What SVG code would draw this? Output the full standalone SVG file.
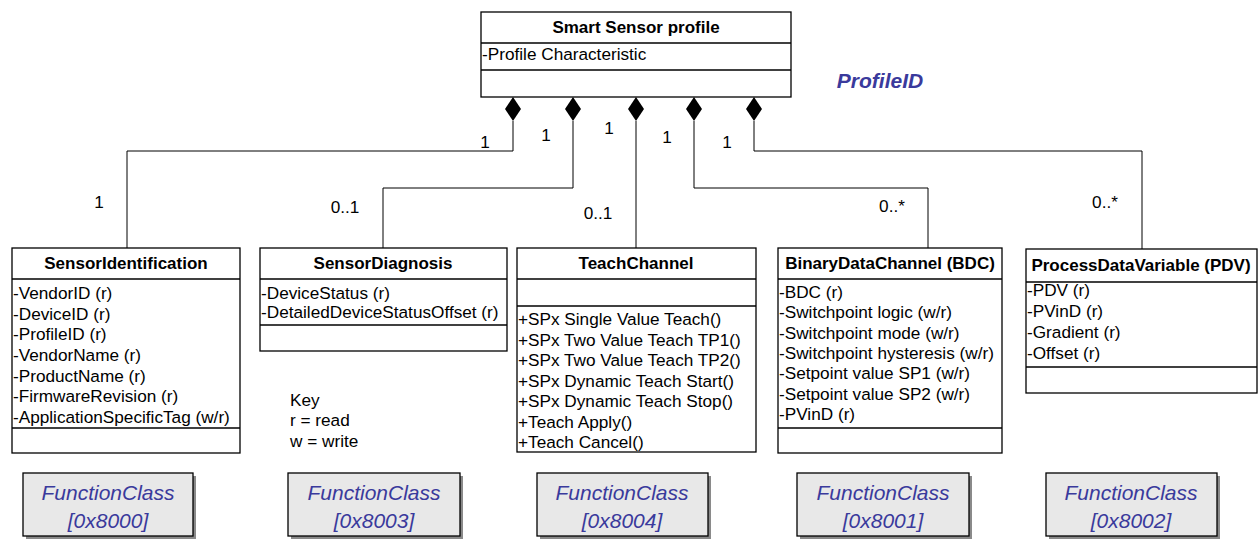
<svg xmlns="http://www.w3.org/2000/svg" width="1260" height="540" viewBox="0 0 1260 540">
<style>
.box{fill:#fff;stroke:#000;stroke-width:1.3}
.div{stroke:#000;stroke-width:1.3}
.t{font-family:"Liberation Sans",Arial,sans-serif;font-size:17.2px;fill:#000}
.b{font-weight:bold;text-anchor:middle;font-size:17px}
.conn{fill:none;stroke:#000;stroke-width:1}
.dia{fill:#000}
.fc{fill:#e8e8e8;stroke:#000;stroke-width:1.3}
.sh{fill:#8a8a8a}
.fct{font-family:"Liberation Sans",Arial,sans-serif;font-size:21px;font-style:italic;fill:#3a3a9c;text-anchor:middle}
</style>
<defs>
<path id="dm" d="M0,0 L8,12 L0,24 L-8,12 Z"/>
</defs>

<g id="connectors">
<path class="conn" d="M513,121 V151 H127 V248"/>
<path class="conn" d="M573,121 V188 H383 V248"/>
<path class="conn" d="M636,121 V248"/>
<path class="conn" d="M694,121 V188 H928 V248"/>
<path class="conn" d="M754,121 V151 H1142 V249"/>
<use href="#dm" class="dia" x="513" y="97"/>
<use href="#dm" class="dia" x="573" y="97"/>
<use href="#dm" class="dia" x="636" y="97"/>
<use href="#dm" class="dia" x="694" y="97"/>
<use href="#dm" class="dia" x="754" y="97"/>
<g class="t" text-anchor="middle">
<text x="485" y="148">1</text>
<text x="546" y="141">1</text>
<text x="609" y="134">1</text>
<text x="667" y="143">1</text>
<text x="727" y="148">1</text>
<text x="99" y="208">1</text>
<text x="345" y="213">0..1</text>
<text x="598" y="219">0..1</text>
<text x="892" y="212">0..*</text>
<text x="1105" y="208">0..*</text>
</g>
</g>

<g id="smart-sensor-profile">
<rect class="box" x="481" y="12" width="310" height="85"/>
<line class="div" x1="481" y1="43" x2="791" y2="43"/>
<line class="div" x1="481" y1="70" x2="791" y2="70"/>
<text class="t b" x="636" y="33">Smart Sensor profile</text>
<text class="t" x="482" y="60">-Profile Characteristic</text>
</g>

<g id="profileid">
<text x="880" y="88" font-family="Liberation Sans,Arial,sans-serif" font-size="21" font-weight="bold" font-style="italic" fill="#3a3a9c" text-anchor="middle">ProfileID</text>
</g>

<g id="sensor-identification">
<rect class="box" x="12" y="248" width="228" height="205"/>
<line class="div" x1="12" y1="279" x2="240" y2="279"/>
<line class="div" x1="12" y1="428" x2="240" y2="428"/>
<text class="t b" x="126" y="269">SensorIdentification</text>
<text class="t" x="13" y="299">-VendorID (r)</text>
<text class="t" x="13" y="320">-DeviceID (r)</text>
<text class="t" x="13" y="340">-ProfileID (r)</text>
<text class="t" x="13" y="361">-VendorName (r)</text>
<text class="t" x="13" y="382">-ProductName (r)</text>
<text class="t" x="13" y="402">-FirmwareRevision (r)</text>
<text class="t" x="13" y="423">-ApplicationSpecificTag (w/r)</text>
</g>

<g id="sensor-diagnosis">
<rect class="box" x="260" y="248" width="247" height="103"/>
<line class="div" x1="260" y1="279" x2="507" y2="279"/>
<line class="div" x1="260" y1="325" x2="507" y2="325"/>
<text class="t b" x="383" y="269">SensorDiagnosis</text>
<text class="t" x="261" y="299">-DeviceStatus (r)</text>
<text class="t" x="261" y="318">-DetailedDeviceStatusOffset (r)</text>
</g>

<g id="key">
<text class="t" x="290" y="406">Key</text>
<text class="t" x="290" y="426">r = read</text>
<text class="t" x="290" y="447">w = write</text>
</g>

<g id="teach-channel">
<rect class="box" x="517" y="248" width="239" height="204"/>
<line class="div" x1="517" y1="279" x2="756" y2="279"/>
<line class="div" x1="517" y1="306" x2="756" y2="306"/>
<text class="t b" x="636" y="269">TeachChannel</text>
<text class="t" x="518" y="325">+SPx Single Value Teach()</text>
<text class="t" x="518" y="345.5">+SPx Two Value Teach TP1()</text>
<text class="t" x="518" y="366">+SPx Two Value Teach TP2()</text>
<text class="t" x="518" y="386.5">+SPx Dynamic Teach Start()</text>
<text class="t" x="518" y="407">+SPx Dynamic Teach Stop()</text>
<text class="t" x="518" y="427.5">+Teach Apply()</text>
<text class="t" x="518" y="448">+Teach Cancel()</text>
</g>

<g id="binary-data-channel">
<rect class="box" x="778" y="248" width="224" height="205"/>
<line class="div" x1="778" y1="279" x2="1002" y2="279"/>
<line class="div" x1="778" y1="428" x2="1002" y2="428"/>
<text class="t b" x="890" y="269">BinaryDataChannel (BDC)</text>
<text class="t" x="779" y="298">-BDC (r)</text>
<text class="t" x="779" y="318">-Switchpoint logic (w/r)</text>
<text class="t" x="779" y="339">-Switchpoint mode (w/r)</text>
<text class="t" x="779" y="359">-Switchpoint hysteresis (w/r)</text>
<text class="t" x="779" y="379">-Setpoint value SP1 (w/r)</text>
<text class="t" x="779" y="400">-Setpoint value SP2 (w/r)</text>
<text class="t" x="779" y="420">-PVinD (r)</text>
</g>

<g id="process-data-variable">
<rect class="box" x="1026" y="249" width="231" height="144"/>
<line class="div" x1="1026" y1="282" x2="1257" y2="282"/>
<line class="div" x1="1026" y1="367" x2="1257" y2="367"/>
<text class="t b" x="1141" y="271">ProcessDataVariable (PDV)</text>
<text class="t" x="1027" y="296">-PDV (r)</text>
<text class="t" x="1027" y="317">-PVinD (r)</text>
<text class="t" x="1027" y="338">-Gradient (r)</text>
<text class="t" x="1027" y="359">-Offset (r)</text>
</g>

<g id="fc-8000">
<rect class="sh" x="26" y="476" width="170" height="63"/>
<rect class="fc" x="23" y="473" width="170" height="63"/>
<text class="fct" x="108" y="500">FunctionClass</text>
<text class="fct" x="108" y="528">[0x8000]</text>
</g>
<g id="fc-8003">
<rect class="sh" x="291" y="476" width="172" height="63"/>
<rect class="fc" x="288" y="473" width="172" height="63"/>
<text class="fct" x="374" y="500">FunctionClass</text>
<text class="fct" x="374" y="528">[0x8003]</text>
</g>
<g id="fc-8004">
<rect class="sh" x="540" y="476" width="171" height="63"/>
<rect class="fc" x="537" y="473" width="171" height="63"/>
<text class="fct" x="622" y="500">FunctionClass</text>
<text class="fct" x="622" y="528">[0x8004]</text>
</g>
<g id="fc-8001">
<rect class="sh" x="800" y="476" width="172" height="63"/>
<rect class="fc" x="797" y="473" width="172" height="63"/>
<text class="fct" x="883" y="500">FunctionClass</text>
<text class="fct" x="883" y="528">[0x8001]</text>
</g>
<g id="fc-8002">
<rect class="sh" x="1049" y="476" width="171" height="63"/>
<rect class="fc" x="1046" y="473" width="171" height="63"/>
<text class="fct" x="1131" y="500">FunctionClass</text>
<text class="fct" x="1131" y="528">[0x8002]</text>
</g>
</svg>
